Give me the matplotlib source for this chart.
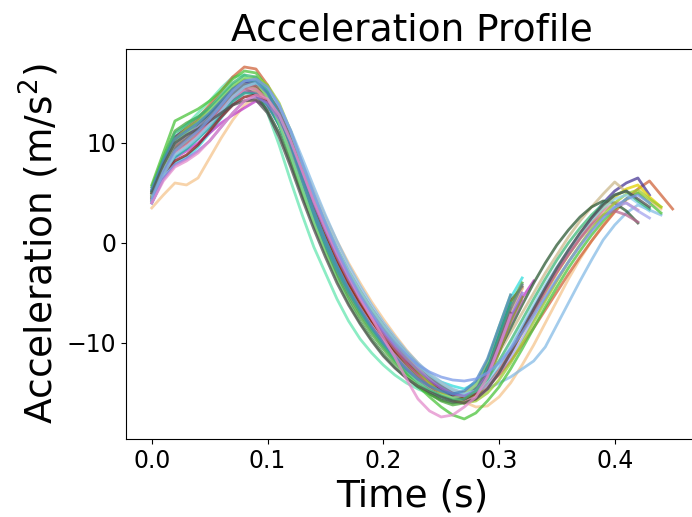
import numpy as np
import matplotlib
matplotlib.use("Agg")
import matplotlib.pyplot as plt

SAMPLE_DT = 0.01  # seconds between samples

# ---- short strides (end ~0.31-0.33 s) ----
a01 = [4.0, 6.5, 8.0, 8.6, 9.6, 11.0, 12.5, 14.0, 15.0, 15.2, 14.0, 11.8, 8.8, 5.5, 2.4, -0.4, -3.0, -5.2, -7.0, -8.5, -9.8, -11.0, -12.0, -12.8, -13.4, -13.9, -14.3, -14.6, -14.0, -12.5, -9.0, -5.5, -3.5]
a02 = [4.2, 6.8, 8.5, 9.2, 10.0, 11.0, 12.0, 12.8, 13.5, 14.2, 13.6, 12.2, 10.0, 7.0, 4.0, 1.4, -1.0, -3.2, -5.2, -7.0, -8.6, -10.0, -11.4, -12.6, -13.8, -14.8, -15.5, -15.8, -15.2, -13.2, -10.2, -7.5, -5.5, -3.8]
a03 = [5.0, 8.0, 10.5, 11.8, 13.0, 14.2, 15.5, 16.6, 16.8, 15.6, 13.0, 9.8, 6.2, 2.8, -0.4, -3.0, -5.6, -7.8, -9.6, -11.0, -12.2, -13.2, -14.0, -14.6, -15.1, -15.5, -15.7, -15.4, -14.5, -12.0, -8.5, -5.5]
a04 = [5.2, 7.8, 9.8, 10.8, 11.8, 13.0, 14.3, 15.4, 16.0, 15.8, 14.6, 12.4, 9.4, 6.0, 2.8, 0.0, -2.6, -4.9, -6.8, -8.4, -9.9, -11.2, -12.4, -13.4, -14.2, -14.9, -15.3, -15.2, -14.4, -12.2, -9.4, -6.5]
a05 = [4.6, 7.2, 9.2, 10.0, 11.0, 12.2, 13.5, 14.8, 15.6, 15.6, 14.6, 12.6, 9.8, 6.6, 3.4, 0.6, -2.0, -4.3, -6.2, -7.8, -9.3, -10.7, -11.9, -12.9, -13.7, -14.4, -14.9, -15.0, -14.2, -12.0, -8.8, -5.8, -4.4]
a06 = [4.4, 7.0, 8.8, 9.6, 10.6, 11.8, 13.0, 14.2, 15.0, 15.2, 14.4, 12.8, 10.4, 7.4, 4.4, 1.8, -0.6, -2.8, -4.8, -6.6, -8.2, -9.7, -11.0, -12.2, -13.2, -14.0, -14.7, -15.1, -14.6, -12.8, -9.8, -6.8, -4.6]
a07 = [4.8, 7.4, 9.4, 10.2, 11.0, 12.0, 13.2, 14.4, 15.2, 15.0, 13.8, 11.8, 9.0, 5.8, 2.6, -0.2, -2.8, -5.0, -6.9, -8.6, -10.1, -11.4, -12.6, -13.6, -14.4, -15.0, -15.4, -15.5, -15.0, -13.4, -10.8, -8.0, -5.8]
a08 = [5.6, 8.6, 11.2, 12.0, 12.6, 13.4, 14.6, 15.8, 16.4, 16.0, 14.4, 11.8, 8.6, 5.2, 2.0, -0.8, -3.3, -5.5, -7.4, -9.1, -10.6, -12.0, -13.2, -14.2, -15.1, -15.8, -16.2, -16.0, -15.0, -12.6, -9.4, -6.2, -4.0]
a09 = [4.3, 6.9, 8.6, 9.4, 10.4, 11.6, 12.9, 14.2, 15.0, 14.9, 13.8, 11.8, 9.0, 5.7, 2.6, -0.2, -2.7, -4.9, -6.8, -8.5, -10.0, -11.3, -12.5, -13.5, -14.3, -14.9, -15.3, -15.3, -14.6, -12.4, -9.2, -6.0]
a10 = [5.0, 7.6, 9.6, 10.4, 11.2, 12.4, 13.8, 15.0, 15.8, 15.8, 14.8, 12.8, 10.0, 6.8, 3.8, 1.0, -1.6, -3.9, -5.9, -7.7, -9.3, -10.8, -12.1, -13.3, -14.3, -15.1, -15.7, -16.0, -15.6, -13.8, -11.0, -7.8, -5.4]
a11 = [4.5, 7.0, 8.2, 8.8, 9.8, 11.2, 12.6, 13.8, 14.6, 14.8, 14.2, 12.6, 10.0, 6.8, 3.7, 0.9, -1.7, -4.0, -6.0, -7.8, -9.4, -10.8, -12.0, -13.0, -13.9, -14.6, -15.2, -15.6, -15.0, -13.0, -10.0, -7.0]
a12 = [4.2, 7.0, 9.4, 10.4, 11.4, 12.6, 13.8, 15.0, 15.8, 16.0, 15.0, 13.2, 10.6, 7.6, 4.6, 2.0, -0.5, -2.8, -4.8, -6.6, -8.2, -9.7, -11.0, -12.2, -13.3, -14.3, -15.0, -15.2, -14.6, -12.8, -9.8, -6.6, -4.2]
a13 = [4.8, 7.6, 10.0, 11.0, 12.0, 13.2, 14.6, 15.8, 16.6, 16.2, 14.6, 12.0, 8.8, 5.4, 2.0, -1.0, -3.7, -6.0, -8.0, -9.7, -11.2, -12.4, -13.4, -14.2, -14.8, -15.2, -15.5, -15.2, -14.2, -11.8, -8.4, -5.2]
a14 = [4.0, 6.4, 7.8, 8.4, 9.2, 10.2, 11.6, 13.0, 14.2, 14.6, 14.0, 12.4, 10.0, 7.0, 4.0, 1.3, -1.2, -3.5, -5.5, -7.3, -8.9, -10.3, -11.6, -12.7, -13.7, -14.5, -15.1, -15.3, -14.8, -13.2, -10.4, -7.4, -5.0]
a15 = [5.4, 8.2, 10.4, 11.2, 12.0, 13.0, 14.2, 15.4, 16.2, 16.2, 15.0, 12.8, 9.8, 6.4, 3.2, 0.3, -2.3, -4.6, -6.6, -8.4, -10.0, -11.4, -12.6, -13.6, -14.3, -14.8, -15.1, -14.8, -13.8, -11.6, -8.4, -5.2]
a16 = [4.0, 6.2, 7.6, 8.2, 9.0, 10.2, 11.6, 13.0, 14.2, 14.8, 14.4, 12.8, 10.2, 7.2, 4.2, 1.5, -1.0, -3.3, -5.5, -7.5, -9.5, -11.4, -13.6, -15.6, -16.8, -17.4, -17.2, -16.4, -15.4, -13.4, -10.4, -7.2]

# ---- long strides (end ~0.41-0.45 s) ----
b01 = [3.5, 4.8, 6.0, 5.8, 6.5, 8.5, 10.5, 12.3, 13.8, 14.5, 14.0, 12.6, 10.6, 8.0, 5.2, 2.6, 0.2, -2.0, -4.0, -5.9, -7.6, -9.2, -10.7, -12.0, -13.2, -14.3, -15.2, -15.9, -16.4, -16.3, -15.4, -14.0, -12.2, -10.2, -8.0, -5.8, -3.6, -1.6, 0.2, 1.8, 3.2, 4.3, 5.0, 4.2, 3.4]
b02 = [4.0, 6.5, 8.5, 9.5, 10.5, 11.5, 12.8, 14.0, 15.0, 15.3, 14.8, 13.5, 11.3, 8.5, 5.6, 2.8, 0.2, -2.2, -4.3, -6.2, -7.9, -9.4, -10.8, -12.0, -13.0, -13.9, -14.6, -15.0, -15.0, -14.6, -14.0, -13.4, -12.6, -11.8, -10.4, -8.2, -6.0, -3.8, -1.7, 0.3, 1.8, 3.0, 3.8, 3.3, 2.8]
b03 = [5.0, 8.0, 10.5, 11.5, 12.5, 13.8, 15.2, 16.6, 17.6, 17.4, 15.8, 13.5, 10.6, 7.4, 4.2, 1.3, -1.4, -3.8, -5.8, -7.6, -9.1, -10.5, -11.7, -12.7, -13.5, -14.2, -14.8, -15.2, -15.0, -14.3, -13.2, -11.8, -10.2, -8.5, -6.7, -4.9, -3.1, -1.4, 0.2, 1.7, 3.1, 4.4, 5.4, 6.2, 4.8, 3.4]
b04 = [5.2, 8.2, 10.6, 11.4, 12.2, 13.2, 14.4, 15.4, 16.2, 16.0, 14.8, 12.6, 9.6, 6.2, 3.0, 0.2, -2.4, -4.7, -6.7, -8.5, -10.1, -11.5, -12.6, -13.5, -14.2, -14.8, -15.3, -15.6, -15.2, -14.2, -12.6, -10.6, -8.5, -6.5, -4.5, -2.6, -0.8, 0.9, 2.5, 4.0, 5.2, 6.0, 6.5, 4.8]
b05 = [4.5, 7.2, 9.6, 10.6, 11.4, 12.4, 13.6, 14.8, 15.6, 15.4, 14.2, 12.0, 9.0, 5.8, 2.6, -0.2, -2.8, -5.1, -7.1, -8.8, -10.3, -11.6, -12.7, -13.6, -14.3, -14.8, -15.1, -15.0, -14.2, -12.8, -11.0, -9.0, -7.0, -5.0, -3.0, -1.2, 0.6, 2.2, 3.6, 4.9, 6.1, 5.1]
b06 = [4.8, 7.5, 10.2, 11.0, 11.8, 12.8, 14.0, 15.0, 15.5, 14.8, 13.2, 11.0, 8.0, 4.8, 1.8, -1.0, -3.6, -5.9, -7.9, -9.6, -11.1, -12.4, -13.5, -14.4, -15.1, -15.7, -16.0, -15.8, -14.8, -13.0, -10.8, -8.5, -6.2, -4.0, -2.0, -0.2, 1.3, 2.6, 3.6, 4.2, 4.0, 3.2, 2.0]
b07 = [4.6, 7.2, 9.4, 10.2, 11.2, 12.4, 13.8, 15.2, 16.2, 16.4, 15.6, 13.8, 11.0, 7.8, 4.7, 1.9, -0.7, -3.0, -5.0, -6.8, -8.4, -9.9, -11.3, -12.5, -13.5, -14.3, -15.0, -15.4, -15.2, -14.3, -12.8, -11.0, -9.0, -7.0, -5.0, -3.0, -1.2, 0.5, 2.0, 3.4, 4.6, 5.4, 5.8, 4.6, 3.6]
b08 = [5.8, 9.0, 12.2, 12.8, 13.4, 14.2, 15.2, 16.4, 17.2, 17.0, 15.6, 13.2, 10.2, 6.8, 3.6, 0.7, -2.0, -4.4, -6.5, -8.4, -10.1, -11.7, -13.1, -14.3, -15.4, -16.4, -17.2, -17.6, -17.0, -15.8, -14.4, -12.6, -10.6, -8.5, -6.4, -4.4, -2.5, -0.8, 0.8, 2.2, 3.4, 4.4, 5.0, 4.0, 3.0]
b09 = [4.4, 7.0, 9.0, 9.8, 10.8, 12.0, 13.4, 14.6, 15.4, 15.4, 14.4, 12.4, 9.6, 6.4, 3.3, 0.5, -2.1, -4.4, -6.4, -8.2, -9.8, -11.2, -12.5, -13.6, -14.5, -15.2, -15.7, -15.9, -15.4, -14.4, -12.8, -10.8, -8.8, -6.8, -4.8, -2.9, -1.1, 0.6, 2.0, 3.2, 4.0, 4.0, 3.3]
b10 = [4.9, 7.8, 10.0, 10.8, 11.6, 12.6, 13.8, 15.0, 15.8, 16.0, 15.2, 13.4, 10.8, 7.6, 4.5, 1.7, -0.9, -3.2, -5.2, -7.0, -8.6, -10.1, -11.4, -12.5, -13.5, -14.3, -14.9, -15.3, -15.0, -14.2, -13.0, -11.4, -9.6, -7.6, -5.6, -3.7, -1.9, -0.2, 1.3, 2.6, 3.6, 4.0, 3.2, 2.5]
b11 = [4.7, 7.4, 9.6, 10.4, 11.2, 12.2, 13.4, 14.6, 15.6, 15.8, 15.0, 13.2, 10.4, 7.2, 4.0, 1.2, -1.4, -3.7, -5.7, -7.5, -9.1, -10.6, -12.0, -13.2, -14.2, -15.0, -15.6, -16.0, -15.6, -14.6, -13.0, -11.0, -8.9, -6.8, -4.8, -2.9, -1.2, 0.4, 1.8, 2.8, 3.2, 2.8, 2.1]
b12 = [4.6, 7.6, 10.4, 11.4, 12.2, 13.2, 14.4, 15.6, 16.4, 16.6, 15.8, 14.0, 11.2, 7.9, 4.8, 2.0, -0.6, -2.9, -4.9, -6.7, -8.4, -10.0, -11.5, -12.8, -14.0, -15.0, -15.6, -16.0, -15.8, -15.0, -13.7, -12.0, -10.0, -7.9, -5.8, -3.8, -1.9, -0.2, 1.4, 2.8, 4.0, 4.9, 5.3, 4.4, 3.6]
b13 = [4.2, 6.8, 8.8, 9.6, 10.6, 11.8, 13.2, 14.6, 15.6, 16.0, 15.4, 13.8, 11.2, 8.0, 4.9, 2.1, -0.5, -2.8, -4.8, -6.6, -8.2, -9.7, -11.0, -12.2, -13.2, -14.0, -14.7, -15.1, -14.8, -13.8, -12.3, -10.4, -8.3, -6.2, -4.2, -2.4, -0.7, 0.9, 2.3, 3.5, 4.4, 4.8, 4.0, 3.2]
b14 = [5.2, 8.4, 11.0, 11.8, 12.6, 13.6, 14.8, 16.0, 16.8, 16.6, 15.2, 12.8, 9.8, 6.4, 3.2, 0.3, -2.4, -4.8, -6.9, -8.7, -10.3, -11.7, -12.9, -13.9, -14.7, -15.3, -15.7, -15.6, -14.8, -13.6, -11.8, -9.8, -7.7, -5.6, -3.6, -1.7, 0.0, 1.5, 2.8, 3.9, 4.8, 5.2, 4.2, 3.4]
b15 = [5.0, 7.8, 10.0, 10.8, 11.4, 12.2, 13.0, 13.8, 14.2, 14.3, 13.0, 10.6, 7.6, 4.4, 1.4, -1.4, -4.0, -6.2, -8.1, -9.8, -11.3, -12.5, -13.5, -14.3, -14.9, -15.4, -15.8, -16.0, -15.6, -14.6, -13.0, -11.0, -8.8, -6.6, -4.5, -2.5, -0.7, 1.0, 2.5, 3.8, 4.8, 5.2, 4.4, 3.6]
b16 = [4.5, 7.2, 9.2, 10.2, 11.2, 12.4, 13.8, 15.2, 16.2, 16.4, 15.6, 13.8, 11.2, 8.0, 4.9, 2.0, -0.7, -3.1, -5.2, -7.0, -8.6, -10.0, -11.2, -12.2, -12.9, -13.4, -13.7, -13.8, -13.6, -13.0, -12.0, -10.6, -9.0, -7.2, -5.4, -3.6, -1.9, -0.3, 1.2, 2.5, 3.6, 4.4, 4.8, 4.0]

series = [a01, b01, a02, b02, a03, b03, a04, b04, a05, b05, a06, b06, a07, b07, a08, b08,
          a09, b09, a10, b10, a11, b11, a12, b12, a13, b13, a14, b14, a15, b15, a16, b16]

colors = ["#33dddd", "#f5c58e", "#c03cc8", "#86bce6", "#66e6b0", "#d0643c", "#1c2a94", "#4a3a96",
          "#7a4a2a", "#cbb98c", "#e0b070", "#2c5a34", "#b06ab0", "#e2d000", "#4aa83c", "#4cc43c",
          "#20a8a0", "#d880a8", "#8a9a20", "#a4a4ee", "#8b1c1c", "#b86890", "#6a7f86", "#9ccc30",
          "#8fe08f", "#8ccff0", "#9270d8", "#3cb878", "#4a86c0", "#505050", "#e38ccc", "#7a9ae8"]

fig = plt.figure(figsize=(6.92, 5.17), dpi=100)
ax = fig.add_axes([0.1817, 0.1509, 0.8279, 0.7544])

for ys, c in zip(series, colors):
    t = np.arange(len(ys)) * SAMPLE_DT
    ax.plot(t, ys, color=c, lw=2, alpha=0.75)

ax.set_xlim(-0.0225, 0.4725)
ax.set_ylim(-19.6, 19.4)
ax.set_xticks([0.0, 0.1, 0.2, 0.3, 0.4])
ax.set_yticks([-10, 0, 10])
ax.tick_params(labelsize=17)
ax.set_title("Acceleration Profile", fontsize=27)
ax.set_xlabel("Time (s)", fontsize=27)
ax.set_ylabel("Acceleration (m/s$^2$)", fontsize=27)

fig.savefig("out.png", dpi=100)
